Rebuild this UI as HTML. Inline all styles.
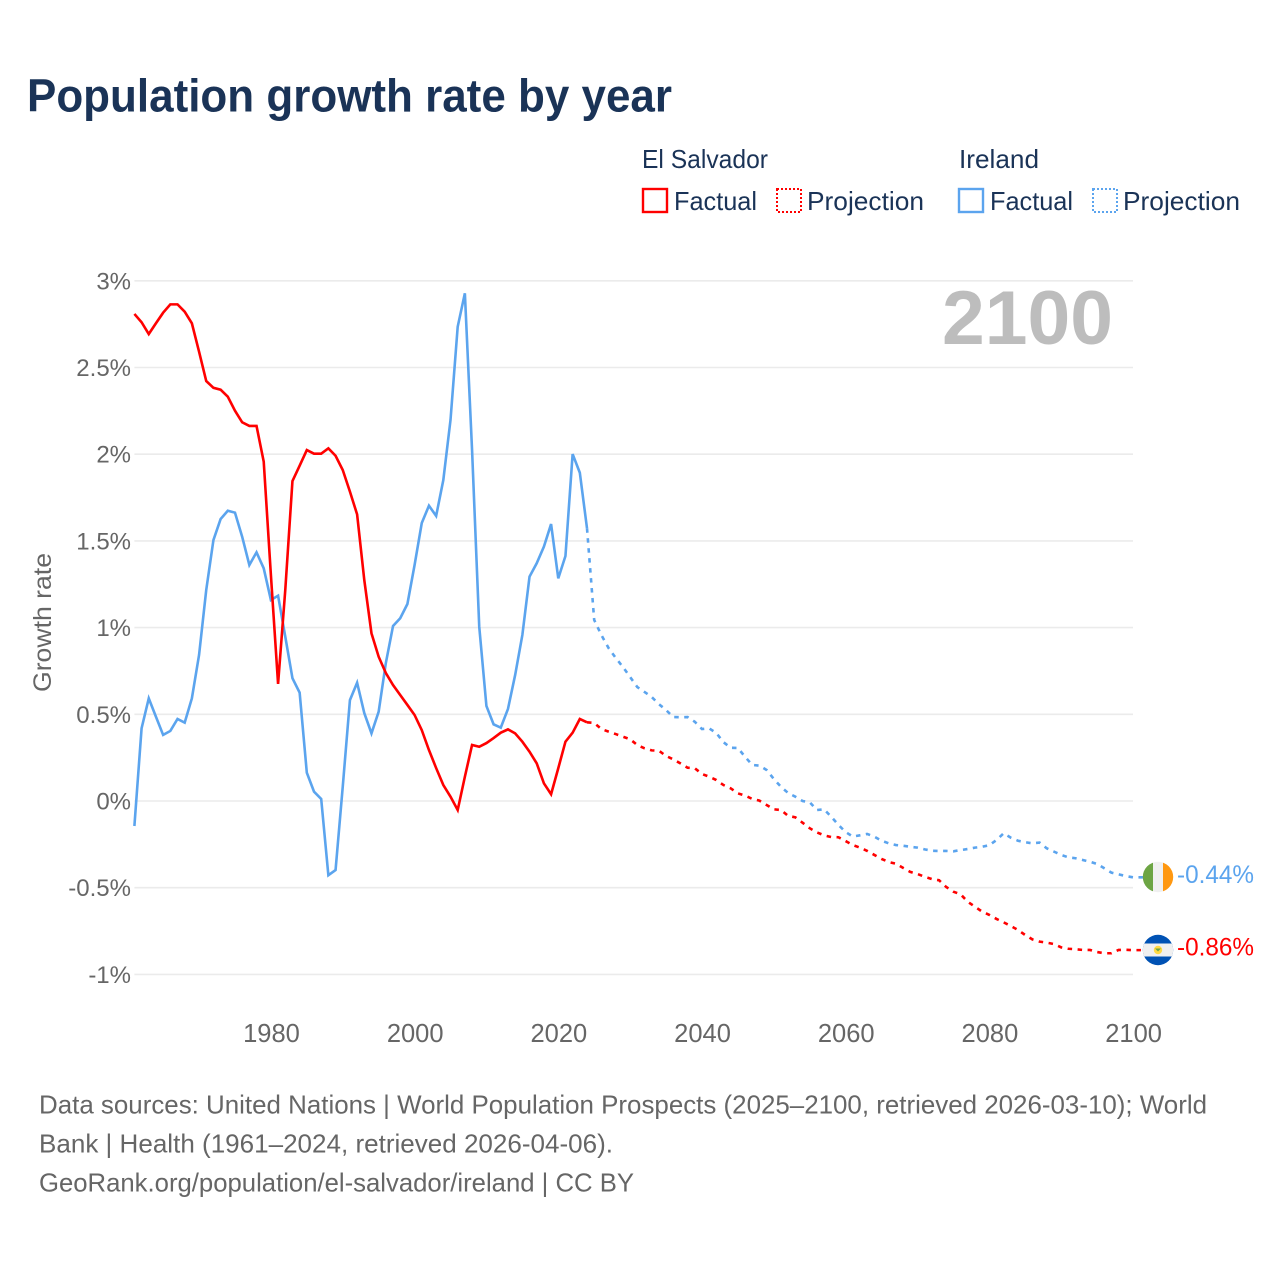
<!DOCTYPE html>
<html lang="en">
<head>
<meta charset="utf-8">
<title>Population growth rate by year</title>
<style>
html,body{margin:0;padding:0;background:#fff;}
svg{display:block;}
text{font-family:"Liberation Sans",sans-serif;}
</style>
</head>
<body>
<svg id="chart" xmlns="http://www.w3.org/2000/svg" width="1280" height="1280" viewBox="0 0 1280 1280">
  <defs>
    <clipPath id="clip-ie"><circle cx="1158" cy="877" r="15.2"/></clipPath>
    <clipPath id="clip-sv"><circle cx="1158" cy="950" r="15.2"/></clipPath>
  </defs>
  <rect width="1280" height="1280" fill="#ffffff"/>

  <text x="27" y="111.5" font-size="46" font-weight="700" fill="#1a3357" textLength="645" lengthAdjust="spacingAndGlyphs">Population growth rate by year</text>

  <g font-size="26" fill="#1a3357">
    <text x="642" y="168" textLength="126" lengthAdjust="spacingAndGlyphs">El Salvador</text>
    <text x="959" y="168" textLength="80" lengthAdjust="spacingAndGlyphs">Ireland</text>
    <rect x="643" y="189" width="24" height="23" fill="none" stroke="#ff0000" stroke-width="2.4"/>
    <text x="674" y="210" textLength="83" lengthAdjust="spacingAndGlyphs">Factual</text>
    <rect x="777" y="189" width="24" height="23" fill="none" stroke="#ff0000" stroke-width="2" stroke-dasharray="2 2"/>
    <text x="807" y="210" textLength="117" lengthAdjust="spacingAndGlyphs">Projection</text>
    <rect x="959" y="189" width="24" height="23" fill="none" stroke="#5ba4ee" stroke-width="2.4"/>
    <text x="990" y="210" textLength="83" lengthAdjust="spacingAndGlyphs">Factual</text>
    <rect x="1093" y="189" width="24" height="23" fill="none" stroke="#5ba4ee" stroke-width="2" stroke-dasharray="2 2"/>
    <text x="1123" y="210" textLength="117" lengthAdjust="spacingAndGlyphs">Projection</text>
  </g>

  <g id="grid"></g>
  <g id="y-labels"></g>
  <g id="x-labels"></g>

  <text transform="translate(51,622.5) rotate(-90)" text-anchor="middle" font-size="25" fill="#666666" textLength="139" lengthAdjust="spacingAndGlyphs">Growth rate</text>

  <text x="942" y="344" font-size="76" font-weight="700" fill="#bdbdbd" textLength="171" lengthAdjust="spacingAndGlyphs">2100</text>

  <g id="series"></g>

  <g clip-path="url(#clip-ie)">
    <rect x="1142" y="861" width="11" height="32" fill="#6da544"/>
    <rect x="1153" y="861" width="10" height="32" fill="#f0f0f0"/>
    <rect x="1163" y="861" width="11" height="32" fill="#ff9811"/>
  </g>
  <g clip-path="url(#clip-sv)">
    <rect x="1142" y="934" width="32" height="32" fill="#0052b4"/>
    <rect x="1142" y="943.5" width="32" height="13" fill="#f0f0f0"/>
    <circle cx="1158" cy="950" r="4.2" fill="#ffda44"/>
    <path d="M1155 948.5 L1158 951.5 L1161 948.5 Z" fill="#6da544"/>
  </g>

  <text id="end-label-ireland" x="1177" y="883" font-size="25" fill="#5ba4ee" textLength="77" lengthAdjust="spacingAndGlyphs"></text>
  <text id="end-label-sv" x="1177" y="955.5" font-size="25" fill="#ff0000" textLength="77" lengthAdjust="spacingAndGlyphs"></text>

  <g font-size="26" fill="#666666">
    <text x="39" y="1113.5" textLength="1168" lengthAdjust="spacingAndGlyphs">Data sources: United Nations | World Population Prospects (2025–2100, retrieved 2026-03-10); World</text>
    <text x="39" y="1152.5" textLength="574" lengthAdjust="spacingAndGlyphs">Bank | Health (1961–2024, retrieved 2026-04-06).</text>
    <text x="39" y="1191.5" textLength="595" lengthAdjust="spacingAndGlyphs">GeoRank.org/population/el-salvador/ireland | CC BY</text>
  </g>
</svg>

<script>
const firstFactualYear = 1961;
const firstProjectionYear = 2025;
const yTicks = [3, 2.5, 2, 1.5, 1, 0.5, 0, -0.5, -1];
const xTicks = [1980, 2000, 2020, 2040, 2060, 2080, 2100];

const elSalvadorFactual = [
  2.809,2.761,2.693,2.755,2.816,2.864,2.864,2.822,2.755,2.591,
  2.422,2.383,2.372,2.332,2.251,2.184,2.163,2.163,1.957,1.303,
  0.675,1.217,1.845,1.934,2.024,2.003,2.003,2.034,1.991,1.909,
  1.784,1.653,1.274,0.967,0.832,0.738,0.669,0.611,0.554,0.496,
  0.409,0.294,0.190,0.092,0.025,-0.052,0.140,0.323,0.313,0.334,
  0.363,0.394,0.413,0.390,0.342,0.284,0.217,0.102,0.039,0.189,
  0.342,0.394,0.473,0.454
];
const elSalvadorProjection = [
  0.450,0.415,0.400,0.386,0.371,0.356,0.323,0.304,0.292,0.290,
  0.260,0.240,0.217,0.192,0.189,0.156,0.140,0.121,0.092,0.073,
  0.044,0.031,0.012,0.002,-0.023,-0.048,-0.052,-0.086,-0.094,-0.125,
  -0.157,-0.181,-0.198,-0.208,-0.209,-0.231,-0.254,-0.269,-0.288,-0.311,
  -0.334,-0.352,-0.362,-0.386,-0.409,-0.421,-0.437,-0.450,-0.457,-0.496,
  -0.523,-0.538,-0.581,-0.610,-0.638,-0.657,-0.680,-0.700,-0.721,-0.744,
  -0.773,-0.798,-0.811,-0.817,-0.825,-0.844,-0.852,-0.855,-0.859,-0.859,
  -0.871,-0.878,-0.878,-0.859,-0.858,-0.860
];
const irelandFactual = [
  -0.144,0.419,0.592,0.486,0.381,0.404,0.473,0.452,0.592,0.842,
  1.217,1.505,1.626,1.674,1.663,1.524,1.361,1.434,1.342,1.159,
  1.184,0.948,0.708,0.625,0.163,0.054,0.012,-0.428,-0.398,0.082,
  0.582,0.682,0.507,0.390,0.515,0.796,1.009,1.054,1.136,1.361,
  1.603,1.703,1.644,1.851,2.197,2.735,2.928,2.024,1.005,0.548,
  0.442,0.423,0.531,0.727,0.957,1.294,1.371,1.467,1.597,1.284,
  1.413,2.001,1.893,1.573
];
const irelandProjection = [
  1.044,0.957,0.882,0.825,0.773,0.715,0.657,0.629,0.600,0.559,
  0.525,0.484,0.483,0.484,0.457,0.415,0.419,0.392,0.339,0.307,
  0.306,0.255,0.208,0.204,0.179,0.127,0.082,0.046,0.025,0.000,
  -0.007,-0.052,-0.048,-0.091,-0.138,-0.179,-0.205,-0.198,-0.190,-0.206,
  -0.229,-0.244,-0.254,-0.258,-0.264,-0.269,-0.279,-0.287,-0.288,-0.288,
  -0.290,-0.283,-0.277,-0.269,-0.264,-0.255,-0.225,-0.186,-0.212,-0.229,
  -0.238,-0.244,-0.240,-0.273,-0.292,-0.311,-0.325,-0.330,-0.340,-0.350,
  -0.363,-0.388,-0.413,-0.423,-0.433,-0.440
];

const NS = 'http://www.w3.org/2000/svg';
const RED = '#ff0000';
const BLUE = '#5ba4ee';

function xScale(year) { return 134.4 + (year - 1961) * (1133 - 134.4) / (2100 - 1961); }
function yScale(value) { return 801 - value * 173.4; }

function buildPoints(startYear, values) {
  return values.map(function (v, i) {
    return xScale(startYear + i).toFixed(2) + ',' + yScale(v).toFixed(2);
  });
}

const gridGroup = document.getElementById('grid');
const yLabelGroup = document.getElementById('y-labels');
yTicks.forEach(function (t) {
  const line = document.createElementNS(NS, 'line');
  
  
  line.setAttribute('x1', xScale(1961));
  line.setAttribute('x2', xScale(2100));
  line.setAttribute('y1', yScale(t));
  line.setAttribute('y2', yScale(t));
  line.setAttribute('stroke', '#ebebeb');
  line.setAttribute('stroke-width', '1.6');
  gridGroup.appendChild(line);

  const label = document.createElementNS(NS, 'text');
  
  
  label.setAttribute('x', 131);
  label.setAttribute('y', yScale(t) + 8.5);
  label.setAttribute('text-anchor', 'end');
  label.setAttribute('font-size', '24');
  label.setAttribute('fill', '#666666');
  label.textContent = t + '%';
  yLabelGroup.appendChild(label);
});

const xLabelGroup = document.getElementById('x-labels');
xTicks.forEach(function (t) {
  const label = document.createElementNS(NS, 'text');
  
  
  label.setAttribute('x', xScale(t) + 0.6);
  label.setAttribute('y', 1042);
  label.setAttribute('text-anchor', 'middle');
  label.setAttribute('font-size', '25.5');
  label.setAttribute('fill', '#666666');
  label.textContent = t;
  xLabelGroup.appendChild(label);
});

const seriesGroup = document.getElementById('series');

function drawLine(name, pts, color, dash) {
  const p = document.createElementNS(NS, 'polyline');
  
  
  p.setAttribute('points', pts.join(' '));
  p.setAttribute('fill', 'none');
  p.setAttribute('stroke', color);
  p.setAttribute('stroke-width', '2.6');
  p.setAttribute('stroke-linejoin', 'miter');
  p.setAttribute('stroke-miterlimit', '4');
  if (dash) { p.setAttribute('stroke-dasharray', dash); }
  seriesGroup.appendChild(p);
}

function projectionPoints(factual, projection) {
  const lastFactualYear = firstFactualYear + factual.length - 1;
  const pts = [xScale(lastFactualYear).toFixed(2) + ',' + yScale(factual[factual.length - 1]).toFixed(2)];
  const rest = buildPoints(firstProjectionYear, projection);
  const end = projection[projection.length - 1];
  rest.push('1143,' + yScale(end).toFixed(2));
  return pts.concat(rest);
}

drawLine('series-ireland-factual', buildPoints(firstFactualYear, irelandFactual), BLUE);
drawLine('series-ireland-projection', projectionPoints(irelandFactual, irelandProjection), BLUE, '4.5 5.5');
drawLine('series-el-salvador-factual', buildPoints(firstFactualYear, elSalvadorFactual), RED);
drawLine('series-el-salvador-projection', projectionPoints(elSalvadorFactual, elSalvadorProjection), RED, '4.5 5.5');

document.getElementById('end-label-ireland').textContent = irelandProjection[irelandProjection.length - 1].toFixed(2) + '%';
document.getElementById('end-label-sv').textContent = elSalvadorProjection[elSalvadorProjection.length - 1].toFixed(2) + '%';
</script>
</body>
</html>
